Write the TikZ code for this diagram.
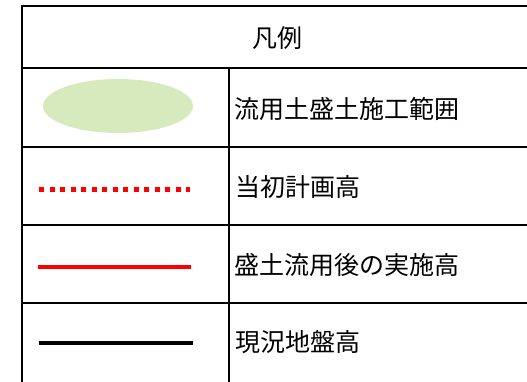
\documentclass[tikz,border=0pt]{standalone}
\usepackage{fontspec}
\setmainfont{Noto Sans CJK JP}
\definecolor{fillgreen}{RGB}{214,234,190}
\tikzset{
  grid/.style={line width=2.7pt, black},
  label/.style={anchor=west, inner sep=0pt, font=\fontsize{25pt}{27pt}\selectfont},
  dotline/.style={red, line width=5pt, dash pattern=on 5pt off 5.5pt},
  redline/.style={red, line width=3.2pt},
  blackline/.style={black, line width=4pt}
}
\begin{document}
\begin{tikzpicture}[x=1pt,y=-1pt]
\useasboundingbox (0,0) rectangle (527,382);
% table grid
\draw[grid] (530,6) -- (22,6) -- (22,386);
\draw[grid] (22,68) -- (530,68);
\draw[grid] (22,147) -- (530,147);
\draw[grid] (22,225) -- (530,225);
\draw[grid] (22,303) -- (530,303);
\draw[grid] (229,68) -- (229,386);
% header
\node[inner sep=0pt, font=\fontsize{25pt}{27pt}\selectfont] (head) at (277.5,38) {凡例};
% row 1
\fill[fillgreen] (118,106) ellipse [x radius=75, y radius=27];
\node[label] (t1) at (234,109) {流用土盛土施工範囲};
% row 2
\coordinate (d1) at (39,190);
\coordinate (d2) at (190,190);
\draw[dotline] (d1) -- (d2);
\node[label] (t2) at (235,187) {当初計画高};
% row 3
\coordinate (r1) at (38,267);
\coordinate (r2) at (191,267);
\draw[redline] (r1) -- (r2);
\node[label] (t3) at (234,265) {盛土流用後の実施高};
% row 4
\coordinate (b1) at (39,343);
\coordinate (b2) at (193,343);
\draw[blackline] (b1) -- (b2);
\node[label] (t4) at (235,342) {現況地盤高};
\end{tikzpicture}
\end{document}
